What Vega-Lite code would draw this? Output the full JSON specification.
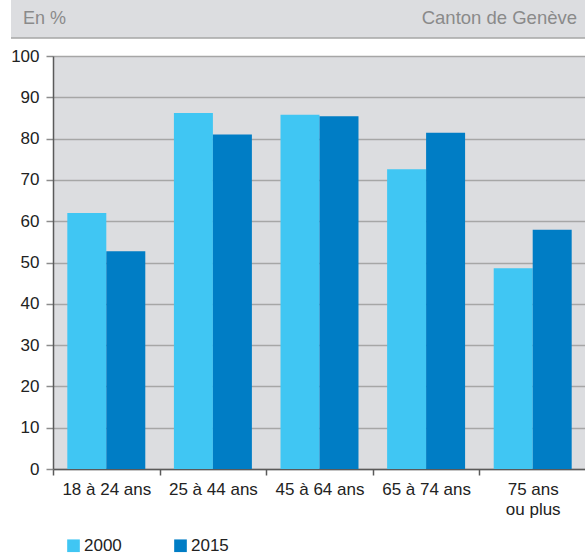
{
  "$schema": "https://vega.github.io/schema/vega-lite/v6.json",
  "background": "white",
  "padding": {"left": 10, "top": 0, "right": 0, "bottom": 0},
  "config": {
    "view": {"stroke": null},
    "font": "Liberation Sans"
  },
  "width": 533,
  "height": 413,
  "view": {"fill": "#dcdde0", "stroke": null},
  "datasets": {
    "header": [
      {"t": "En %", "side": "left", "pos": 0},
      {"t": "Canton de Genève", "side": "right", "pos": 1}
    ],
    "shares": [
      {"age": "18 à 24 ans", "year": "2000", "pct": 62.0},
      {"age": "18 à 24 ans", "year": "2015", "pct": 52.7},
      {"age": "25 à 44 ans", "year": "2000", "pct": 86.2},
      {"age": "25 à 44 ans", "year": "2015", "pct": 81.0},
      {"age": "45 à 64 ans", "year": "2000", "pct": 85.8},
      {"age": "45 à 64 ans", "year": "2015", "pct": 85.4},
      {"age": "65 à 74 ans", "year": "2000", "pct": 72.6},
      {"age": "65 à 74 ans", "year": "2015", "pct": 81.4},
      {"age": "75 ans ou plus", "year": "2000", "pct": 48.6},
      {"age": "75 ans ou plus", "year": "2015", "pct": 57.9}
    ]
  },
  "layer": [
    {
      "data": {"name": "header"},
      "transform": [{"filter": "datum.side == 'left'"}],
      "mark": {"type": "rect", "color": "#dcdde0"},
      "encoding": {
        "x": {"datum": 0, "type": "quantitative", "scale": {"domain": [0, 1], "range": [-42, 533]}, "axis": null},
        "x2": {"datum": 1},
        "y": {"datum": 0, "type": "quantitative", "scale": {"domain": [0, 1], "range": [-18, -56]}, "axis": null},
        "y2": {"datum": 1}
      }
    },
    {
      "data": {"name": "header"},
      "transform": [{"filter": "datum.side == 'left'"}],
      "mark": {"type": "rule", "color": "#a6a6a6", "strokeWidth": 1.5},
      "encoding": {
        "x": {"datum": 0, "type": "quantitative", "scale": {"domain": [0, 1], "range": [-42, 533]}, "axis": null},
        "x2": {"datum": 1},
        "y": {"datum": 0, "type": "quantitative", "scale": {"domain": [0, 1], "range": [-18, -56]}, "axis": null}
      }
    },
    {
      "data": {"name": "header"},
      "transform": [{"filter": "datum.side == 'left'"}],
      "mark": {"type": "text", "align": "left", "baseline": "alphabetic", "dx": 12, "dy": 5, "fontSize": 18, "color": "#8a8a8a"},
      "encoding": {
        "x": {"field": "pos", "type": "quantitative", "scale": {"domain": [0, 1], "range": [-42, 533]}, "axis": null},
        "y": {"datum": 0.5, "type": "quantitative", "scale": {"domain": [0, 1], "range": [-18, -56]}, "axis": null},
        "text": {"field": "t"}
      }
    },
    {
      "data": {"name": "header"},
      "transform": [{"filter": "datum.side == 'right'"}],
      "mark": {"type": "text", "align": "right", "baseline": "alphabetic", "dx": -9, "dy": 5, "fontSize": 18.5, "color": "#8a8a8a"},
      "encoding": {
        "x": {"field": "pos", "type": "quantitative", "scale": {"domain": [0, 1], "range": [-42, 533]}, "axis": null},
        "y": {"datum": 0.5, "type": "quantitative", "scale": {"domain": [0, 1], "range": [-18, -56]}, "axis": null},
        "text": {"field": "t"}
      }
    },
    {
      "data": {"name": "shares"},
      "mark": {"type": "bar"},
      "encoding": {
        "x": {
          "field": "age", "type": "nominal", "sort": null,
          "scale": {"paddingInner": 0, "paddingOuter": 0},
          "axis": {
            "title": null, "labelAngle": 0, "tickBand": "extent",
            "labelFontSize": 17, "labelColor": "#222222", "labelPadding": 6,
            "labelLineHeight": 20,
            "labelExpr": "datum.label == '75 ans ou plus' ? ['75 ans', 'ou plus'] : datum.label",
            "domainColor": "#5a5a5a", "domainWidth": 1.5,
            "tickColor": "#5a5a5a", "tickSize": 6, "tickWidth": 1.5,
            "grid": false
          }
        },
        "xOffset": {"field": "year", "type": "nominal", "scale": {"paddingInner": 0, "paddingOuter": 0.367}},
        "y": {
          "field": "pct", "type": "quantitative",
          "scale": {"domain": [0, 100], "nice": false},
          "axis": {
            "title": null, "values": [0, 10, 20, 30, 40, 50, 60, 70, 80, 90, 100],
            "labelFontSize": 17, "labelColor": "#222222", "labelPadding": 7,
            "domainColor": "#5a5a5a", "domainWidth": 1.5,
            "tickColor": "#8c8c8c", "tickSize": 7, "tickWidth": 1.5,
            "grid": true, "gridColor": "#a6a6a6", "gridWidth": 1.5
          }
        },
        "color": {
          "field": "year", "type": "nominal",
          "scale": {"domain": ["2000", "2015"], "range": ["#40c6f3", "#007dc5"]},
          "legend": {
            "title": null, "orient": "none", "direction": "horizontal",
            "legendX": 12, "legendY": 481,
            "symbolType": "square", "symbolSize": 160, "symbolStrokeWidth": 0,
            "labelFontSize": 17, "labelColor": "#222222", "labelOffset": 2,
            "columnPadding": 50
          }
        }
      }
    }
  ],
  "resolve": {"scale": {"x": "independent", "y": "independent"}}
}
